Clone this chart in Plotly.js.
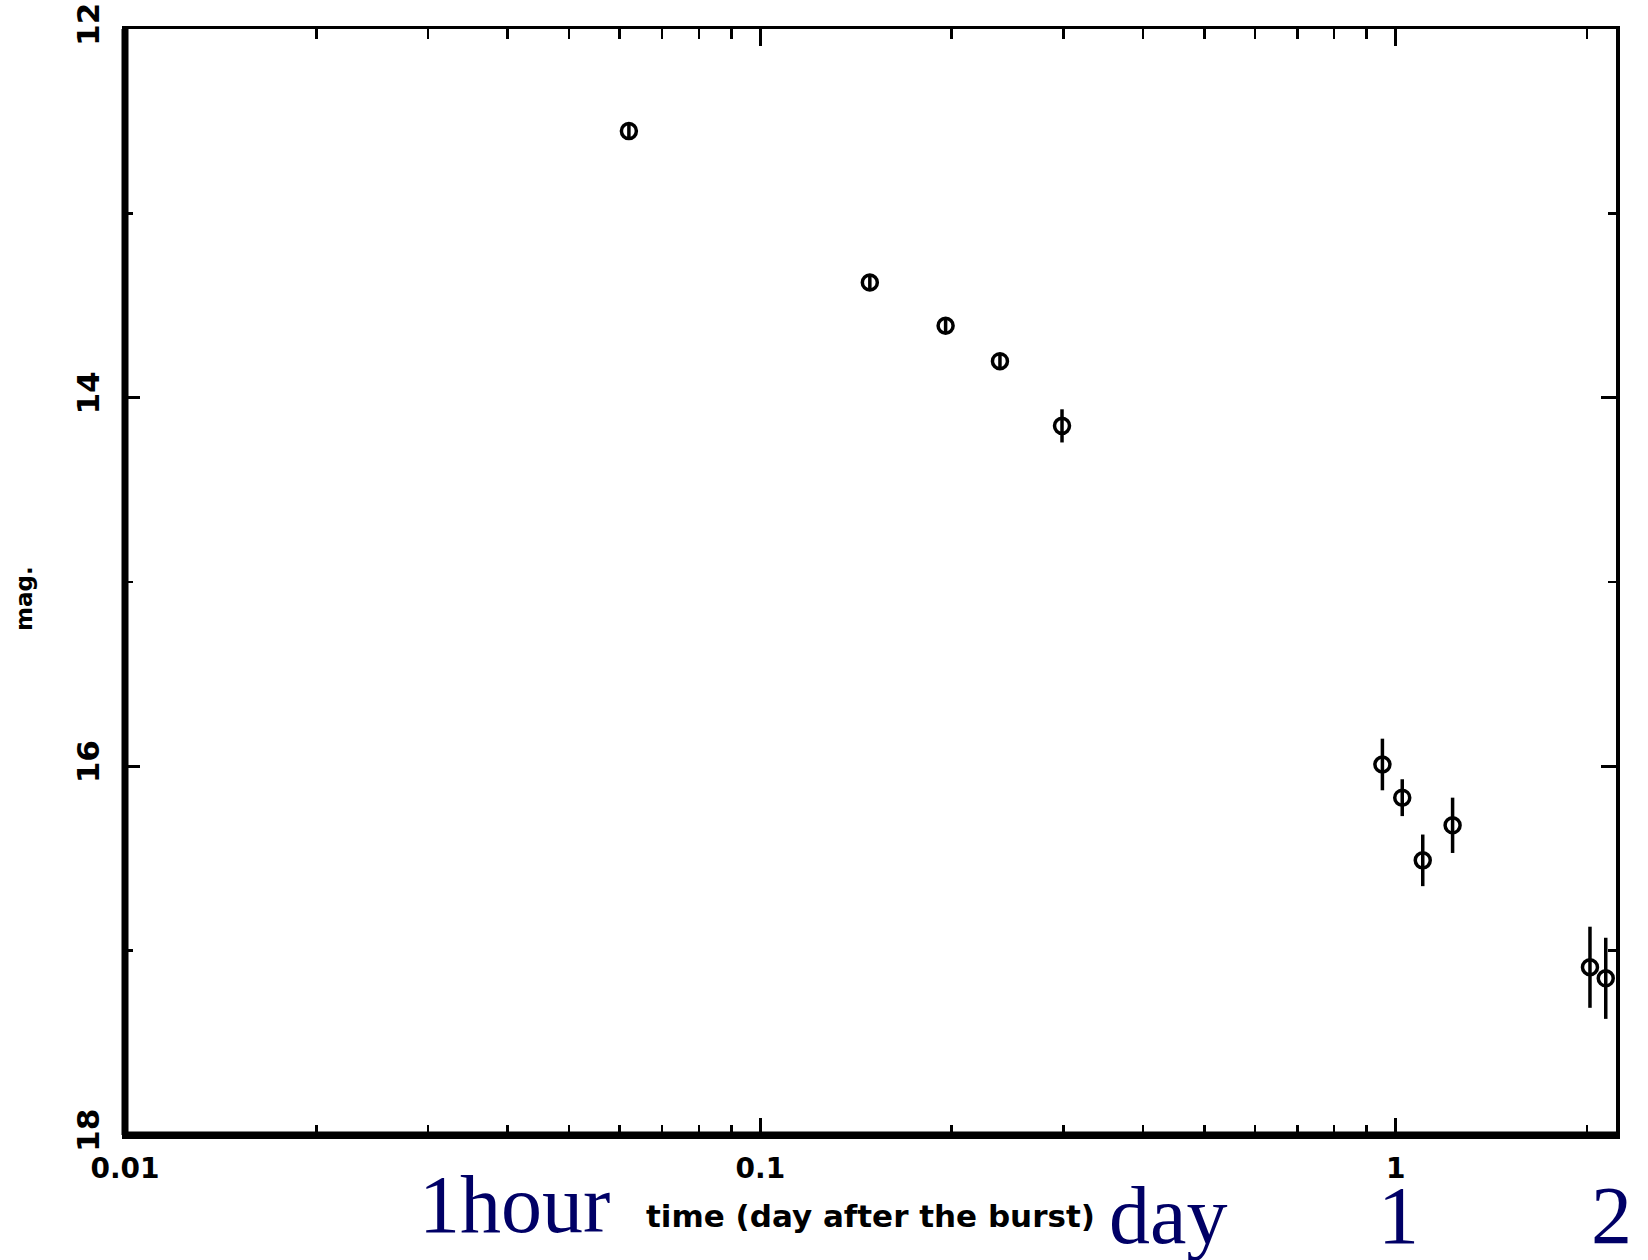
<!DOCTYPE html>
<html>
<head>
<meta charset="utf-8">
<script src="https://cdn.plot.ly/plotly-3.0.1.min.js"></script>
<style>html,body{margin:0;padding:0;background:#fff;}#chart{width:1648px;height:1260px;}</style>
</head>
<body>
<div id="chart"></div>
<script>
// Data (time in days after the burst, magnitude)
const timeDays = [0.0621, 0.1487, 0.1957, 0.2383, 0.2984, 0.953, 1.024, 1.103, 1.229, 2.022, 2.141];
const magnitude = [12.554, 13.375, 13.61, 13.802, 14.153, 15.99, 16.17, 16.51, 16.32, 17.09, 17.15];
const magError = [0.04, 0.04, 0.04, 0.04, 0.09, 0.14, 0.10, 0.14, 0.15, 0.22, 0.22];

const xTickVals = [0.01, 0.1, 1];
const xTickText = ['0.01', '0.1', '1'];
const yTickVals = [12, 14, 16, 18];
const yTickText = ['12', '14', '16', '18'];

const xTitle = 'time (day after the burst)';
const yTitle = 'mag.';
const noteLabels = ['1hour', 'day', '1', '2'];

const axisFont = {family: 'DejaVu Sans, Arial, sans-serif', size: 28, color: '#000', weight: 'bold'};
const noteFont = {family: 'Liberation Serif, Times New Roman, serif', size: 82, color: '#000066'};

// plot area in pixels
const L = 125, R = 1616, T = 29, B = 1135, W = 1648, H = 1260;
const px = x => (x - L) / (R - L);
const py = y => (B - y) / (B - T);

const trace = {
  type: 'scatter',
  mode: 'markers',
  x: timeDays,
  y: magnitude,
  error_y: {type: 'data', array: magError, visible: true, color: '#000', thickness: 3.5, width: 0},
  marker: {symbol: 'circle-open', size: 15, color: '#000', line: {width: 3.5, color: '#000'}},
  showlegend: false,
  hoverinfo: 'x+y'
};

const notePos = [
  {x: 514, y: 1204},
  {x: 1168, y: 1215},
  {x: 1398, y: 1215},
  {x: 1611, y: 1215}
];

const annotations = noteLabels.map((t, i) => ({
  text: t, xref: 'paper', yref: 'paper',
  x: px(notePos[i].x), y: py(notePos[i].y),
  xanchor: 'center', yanchor: 'middle', showarrow: false,
  font: noteFont
}));

annotations.push({
  text: yTitle, xref: 'paper', yref: 'paper', textangle: -90,
  x: px(24), y: py(599), xanchor: 'center', yanchor: 'middle', showarrow: false,
  font: {family: 'DejaVu Sans, Arial, sans-serif', size: 23, color: '#000', weight: 'bold'}
});
annotations.push({
  text: xTitle, xref: 'paper', yref: 'paper',
  x: px(870), y: py(1216), xanchor: 'center', yanchor: 'middle', showarrow: false,
  font: {family: 'DejaVu Sans, Arial, sans-serif', size: 31, color: '#000', weight: 'bold'}
});

const layout = {
  width: W, height: H,
  margin: {l: L, r: W - R, t: T, b: H - B, pad: 0},
  paper_bgcolor: '#fff', plot_bgcolor: '#fff',
  showlegend: false,
  xaxis: {
    type: 'log', range: [-2, Math.log10(2.222)],
    tickvals: xTickVals, ticktext: xTickText,
    ticks: 'inside', ticklen: 17, tickwidth: 2.5, tickcolor: '#000',
    minor: {ticks: 'inside', ticklen: 10, tickwidth: 2.5, tickcolor: '#000', dtick: 'D1', showgrid: false},
    showline: true, linewidth: 3.5, linecolor: '#000', mirror: 'ticks',
    showgrid: false, zeroline: false,
    tickfont: axisFont, ticklabelstandoff: 6,
    automargin: false
  },
  yaxis: {
    range: [18, 12],
    tickvals: yTickVals, ticktext: yTickText, tickangle: -90,
    ticks: 'inside', ticklen: 15, tickwidth: 2.5, tickcolor: '#000',
    minor: {ticks: 'inside', ticklen: 8, tickwidth: 2.5, tickcolor: '#000', dtick: 1, showgrid: false},
    showline: true, linewidth: 3.5, linecolor: '#000', mirror: 'ticks',
    showgrid: false, zeroline: false,
    tickfont: Object.assign({}, axisFont, {size: 31}), ticklabelstandoff: 10,
    automargin: false
  },
  shapes: [
    {type: 'line', xref: 'paper', yref: 'paper', x0: 0, x1: 0, y0: 0, y1: 1, line: {color: '#000', width: 7}},
    {type: 'line', xref: 'paper', yref: 'paper', x0: 0, x1: 1, y0: 0, y1: 0, line: {color: '#000', width: 7}}
  ],
  annotations: annotations
};

Plotly.newPlot('chart', [trace], layout, {displayModeBar: false, staticPlot: true});
</script>
</body>
</html>
